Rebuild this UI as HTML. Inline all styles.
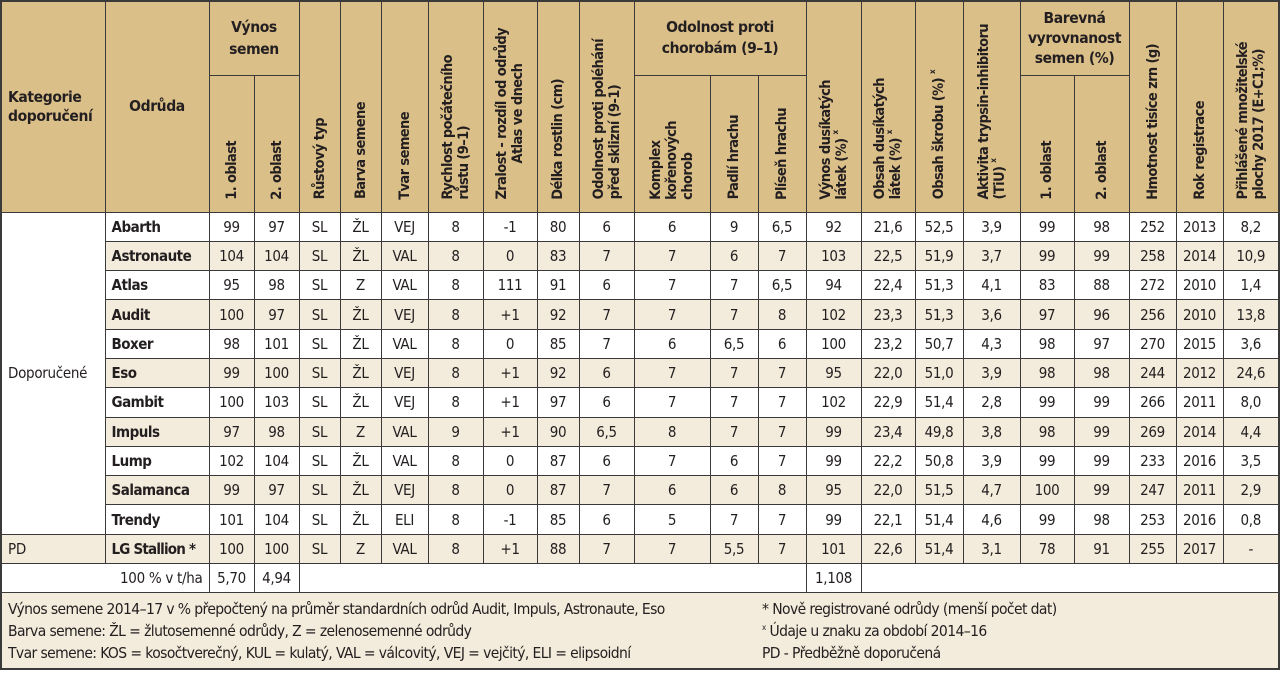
<!DOCTYPE html>
<html><head><meta charset="utf-8">
<style>
html,body{margin:0;padding:0;background:#fff;}
body{width:1280px;height:673px;overflow:hidden;}
table{border-collapse:collapse;table-layout:fixed;width:1279px;border:2px solid #3a3a3a;
 font-family:"DejaVu Sans Condensed","Liberation Sans Narrow","Liberation Sans",sans-serif;color:#231f20;}
td,th{border:1px solid #3a3a3a;padding:0;overflow:hidden;}
thead th{background:#dbbf89;font-weight:bold;font-size:14px;line-height:17px;letter-spacing:-0.4px;}
th.h{text-align:center;vertical-align:middle;}
th.v{vertical-align:bottom;text-align:center;padding-bottom:7px;}
.r{display:inline-block;writing-mode:vertical-rl;transform:rotate(180deg);text-align:left;line-height:16px;white-space:nowrap;font-size:14.5px;letter-spacing:-0.6px;}
sup{font-size:8px;vertical-align:6px;line-height:0;}
tbody td{font-size:15px;text-align:center;height:28.3px;line-height:18px;white-space:nowrap;letter-spacing:-0.3px;}
tbody tr.b td{background:#f3ebdb;}
td.n{font-weight:bold;text-align:left;padding-left:6px;letter-spacing:-0.5px;}
td.cat{background:#fff !important;text-align:left;padding-left:6px;vertical-align:middle;}
td.f{background:#f3ebdb;text-align:left;font-size:15.5px;line-height:22px;padding:5px 0 4px 6px;height:auto;vertical-align:top;letter-spacing:-0.6px;}
.fl{display:inline-block;width:754px;vertical-align:top;}
.fr{display:inline-block;vertical-align:top;}
</style></head><body>
<table>
<colgroup>
<col style="width:104px"><col style="width:104px"><col style="width:45px"><col style="width:45px"><col style="width:41px"><col style="width:41px"><col style="width:47px"><col style="width:55px"><col style="width:54px"><col style="width:42px"><col style="width:55px"><col style="width:76px"><col style="width:48px"><col style="width:48px"><col style="width:55px"><col style="width:54px"><col style="width:48px"><col style="width:57px"><col style="width:54px"><col style="width:55px"><col style="width:47px"><col style="width:47px"><col style="width:56px">
</colgroup>
<thead>
<tr style="height:74px">
<th class="h" rowspan="2" style="text-align:left;padding-left:6px;font-size:15.5px;line-height:19px">Kategorie<br>doporučení</th>
<th class="h" rowspan="2" style="font-size:15.5px">Odrůda</th>
<th class="h" colspan="2" style="font-size:15.5px;line-height:22px">Výnos<br>semen</th>
<th class="v" rowspan="2"><span class="r">Růstový typ</span></th>
<th class="v" rowspan="2"><span class="r">Barva semene</span></th>
<th class="v" rowspan="2"><span class="r">Tvar semene</span></th>
<th class="v" rowspan="2"><span class="r">Rychlost počátečního<br>růstu (9–1)</span></th>
<th class="v" rowspan="2"><span class="r" style="text-align:center">Zralost - rozdíl od odrůdy<br>Atlas ve dnech</span></th>
<th class="v" rowspan="2"><span class="r">Délka rostlin (cm)</span></th>
<th class="v" rowspan="2"><span class="r">Odolnost proti poléhání<br>před sklizní (9-1)</span></th>
<th class="h" colspan="3" style="font-size:15.5px;line-height:21px">Odolnost proti<br>chorobám (9–1)</th>
<th class="v" rowspan="2"><span class="r">Výnos dusíkatých<br>látek (%) <sup>x</sup></span></th>
<th class="v" rowspan="2"><span class="r">Obsah dusíkatých<br>látek (%) <sup>x</sup></span></th>
<th class="v" rowspan="2"><span class="r">Obsah škrobu (%) <sup>x</sup></span></th>
<th class="v" rowspan="2"><span class="r">Aktivita trypsin-inhibitoru<br>(TiU) <sup>x</sup></span></th>
<th class="h" colspan="2" style="font-size:15.5px;line-height:20px">Barevná<br>vyrovnanost<br>semen (%)</th>
<th class="v" rowspan="2"><span class="r">Hmotnost tisíce zrn (g)</span></th>
<th class="v" rowspan="2"><span class="r">Rok registrace</span></th>
<th class="v" rowspan="2"><span class="r">Přihlášené množitelské<br>plochy 2017 (E+C1;%)</span></th>
</tr>
<tr style="height:137px">
<th class="v"><span class="r">1. oblast</span></th>
<th class="v"><span class="r">2. oblast</span></th>
<th class="v"><span class="r">Komplex<br>kořenových<br>chorob</span></th>
<th class="v"><span class="r">Padlí hrachu</span></th>
<th class="v"><span class="r">Plíseň hrachu</span></th>
<th class="v"><span class="r">1. oblast</span></th>
<th class="v"><span class="r">2. oblast</span></th>
</tr>
</thead>
<tbody>
<tr><td class="cat" rowspan="11">Doporučené</td><td class="n">Abarth</td><td>99</td><td>97</td><td>SL</td><td>ŽL</td><td>VEJ</td><td>8</td><td>-1</td><td>80</td><td>6</td><td>6</td><td>9</td><td>6,5</td><td>92</td><td>21,6</td><td>52,5</td><td>3,9</td><td>99</td><td>98</td><td>252</td><td>2013</td><td>8,2</td></tr>
<tr class="b"><td class="n">Astronaute</td><td>104</td><td>104</td><td>SL</td><td>ŽL</td><td>VAL</td><td>8</td><td>0</td><td>83</td><td>7</td><td>7</td><td>6</td><td>7</td><td>103</td><td>22,5</td><td>51,9</td><td>3,7</td><td>99</td><td>99</td><td>258</td><td>2014</td><td>10,9</td></tr>
<tr><td class="n">Atlas</td><td>95</td><td>98</td><td>SL</td><td>Z</td><td>VAL</td><td>8</td><td>111</td><td>91</td><td>6</td><td>7</td><td>7</td><td>6,5</td><td>94</td><td>22,4</td><td>51,3</td><td>4,1</td><td>83</td><td>88</td><td>272</td><td>2010</td><td>1,4</td></tr>
<tr class="b"><td class="n">Audit</td><td>100</td><td>97</td><td>SL</td><td>ŽL</td><td>VEJ</td><td>8</td><td>+1</td><td>92</td><td>7</td><td>7</td><td>7</td><td>8</td><td>102</td><td>23,3</td><td>51,3</td><td>3,6</td><td>97</td><td>96</td><td>256</td><td>2010</td><td>13,8</td></tr>
<tr><td class="n">Boxer</td><td>98</td><td>101</td><td>SL</td><td>ŽL</td><td>VAL</td><td>8</td><td>0</td><td>85</td><td>7</td><td>6</td><td>6,5</td><td>6</td><td>100</td><td>23,2</td><td>50,7</td><td>4,3</td><td>98</td><td>97</td><td>270</td><td>2015</td><td>3,6</td></tr>
<tr class="b"><td class="n">Eso</td><td>99</td><td>100</td><td>SL</td><td>ŽL</td><td>VEJ</td><td>8</td><td>+1</td><td>92</td><td>6</td><td>7</td><td>7</td><td>7</td><td>95</td><td>22,0</td><td>51,0</td><td>3,9</td><td>98</td><td>98</td><td>244</td><td>2012</td><td>24,6</td></tr>
<tr><td class="n">Gambit</td><td>100</td><td>103</td><td>SL</td><td>ŽL</td><td>VEJ</td><td>8</td><td>+1</td><td>97</td><td>6</td><td>7</td><td>7</td><td>7</td><td>102</td><td>22,9</td><td>51,4</td><td>2,8</td><td>99</td><td>99</td><td>266</td><td>2011</td><td>8,0</td></tr>
<tr class="b"><td class="n">Impuls</td><td>97</td><td>98</td><td>SL</td><td>Z</td><td>VAL</td><td>9</td><td>+1</td><td>90</td><td>6,5</td><td>8</td><td>7</td><td>7</td><td>99</td><td>23,4</td><td>49,8</td><td>3,8</td><td>98</td><td>99</td><td>269</td><td>2014</td><td>4,4</td></tr>
<tr><td class="n">Lump</td><td>102</td><td>104</td><td>SL</td><td>ŽL</td><td>VAL</td><td>8</td><td>0</td><td>87</td><td>6</td><td>7</td><td>6</td><td>7</td><td>99</td><td>22,2</td><td>50,8</td><td>3,9</td><td>99</td><td>99</td><td>233</td><td>2016</td><td>3,5</td></tr>
<tr class="b"><td class="n">Salamanca</td><td>99</td><td>97</td><td>SL</td><td>ŽL</td><td>VEJ</td><td>8</td><td>0</td><td>87</td><td>7</td><td>6</td><td>6</td><td>8</td><td>95</td><td>22,0</td><td>51,5</td><td>4,7</td><td>100</td><td>99</td><td>247</td><td>2011</td><td>2,9</td></tr>
<tr><td class="n">Trendy</td><td>101</td><td>104</td><td>SL</td><td>ŽL</td><td>ELI</td><td>8</td><td>-1</td><td>85</td><td>6</td><td>5</td><td>7</td><td>7</td><td>99</td><td>22,1</td><td>51,4</td><td>4,6</td><td>99</td><td>98</td><td>253</td><td>2016</td><td>0,8</td></tr>
<tr class="b"><td style="text-align:left;padding-left:6px">PD</td><td class="n" style="letter-spacing:-0.8px">LG Stallion *</td><td>100</td><td>100</td><td>SL</td><td>Z</td><td>VAL</td><td>8</td><td>+1</td><td>88</td><td>7</td><td>7</td><td>5,5</td><td>7</td><td>101</td><td>22,6</td><td>51,4</td><td>3,1</td><td>78</td><td>91</td><td>255</td><td>2017</td><td>-</td></tr>
<tr><td colspan="2" style="text-align:right;padding-right:6px">100 % v t/ha</td><td>5,70</td><td>4,94</td><td colspan="10"></td><td>1,108</td><td colspan="8"></td></tr>
<tr><td class="f" colspan="23"><div class="fl">Výnos semene 2014–17 v % přepočtený na průměr standardních odrůd Audit, Impuls, Astronaute, Eso<br>Barva semene: ŽL = žlutosemenné odrůdy, Z = zelenosemenné odrůdy<br>Tvar semene: KOS = kosočtverečný, KUL = kulatý, VAL = válcovitý, VEJ = vejčitý, ELI = elipsoidní</div><div class="fr">* Nově registrované odrůdy (menší počet dat)<br><sup>x</sup> Údaje u znaku za období 2014–16<br>PD - Předběžně doporučená</div></td></tr>
</tbody>
</table>
</body></html>
